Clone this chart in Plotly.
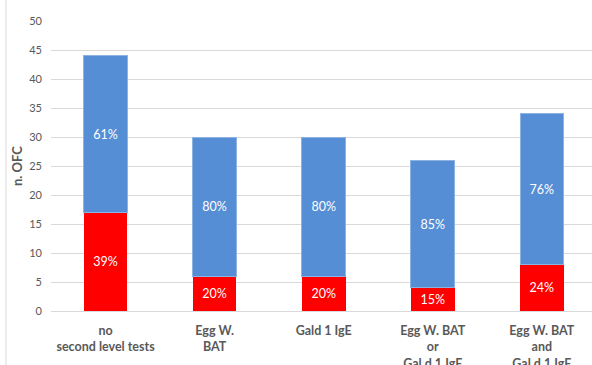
import plotly.graph_objects as go

categories = [
    "no<br>second level tests",
    "Egg W.<br>BAT",
    "Gald 1 IgE",
    "Egg W. BAT<br>or<br>Gal d 1 IgE",
    "Egg W. BAT<br>and<br>Gal d 1 IgE",
]
positive = [17, 6, 6, 4, 8]
negative = [27, 24, 24, 22, 26]
positive_pct = ["39%", "20%", "20%", "15%", "24%"]
negative_pct = ["61%", "80%", "80%", "85%", "76%"]
y_ticks = [0, 5, 10, 15, 20, 25, 30, 35, 40, 45, 50]

RED = "#ff0000"
BLUE = "#558ed5"
GRID = "#d9d9d9"
TEXT = "#595959"

fig = go.Figure()
fig.add_trace(go.Bar(
    x=categories, y=positive, text=positive_pct,
    marker=dict(color=RED, line=dict(width=0)),
    textposition="inside", insidetextanchor="middle",
    textfont=dict(color="white", size=12.5, family="Lato"),
    width=0.4, showlegend=False,
))
fig.add_trace(go.Bar(
    x=categories, y=negative, text=negative_pct,
    marker=dict(color=BLUE, line=dict(width=1, color="#8db3e2")),
    textposition="inside", insidetextanchor="middle",
    textfont=dict(color="white", size=12.5, family="Lato"),
    width=0.4, showlegend=False,
))

fig.update_layout(
    barmode="stack",
    width=592, height=365,
    margin=dict(l=51, r=0, t=21, b=54),
    paper_bgcolor="white", plot_bgcolor="white",
    font=dict(family="Lato", color=TEXT),
    uniformtext=dict(minsize=12, mode="show"),
    shapes=[dict(
        type="line", xref="paper", yref="paper",
        x0=(6 - 51) / 541, x1=(6 - 51) / 541,
        y0=-54 / 290, y1=1 + 21 / 290,
        line=dict(color=GRID, width=1),
    )],
)
fig.update_xaxes(
    type="category", range=[-0.5, 4.46], automargin=False,
    showgrid=False, showline=True, linecolor=GRID, linewidth=1,
    ticks="", tickfont=dict(size=12.5, color=TEXT, family="Lato", weight="bold"),
    ticklabelstandoff=8,
)
fig.update_yaxes(
    range=[0, 50], tickvals=y_ticks, automargin=False,
    showgrid=True, gridcolor=GRID, gridwidth=1,
    zeroline=False, showline=False, ticks="",
    tickfont=dict(size=11, color=TEXT, family="Lato"),
    ticklabelstandoff=8,
    title=dict(text="<b>n. OFC</b>", font=dict(size=13, color=TEXT, family="Lato"), standoff=3),
)

fig.write_html("out.html")
